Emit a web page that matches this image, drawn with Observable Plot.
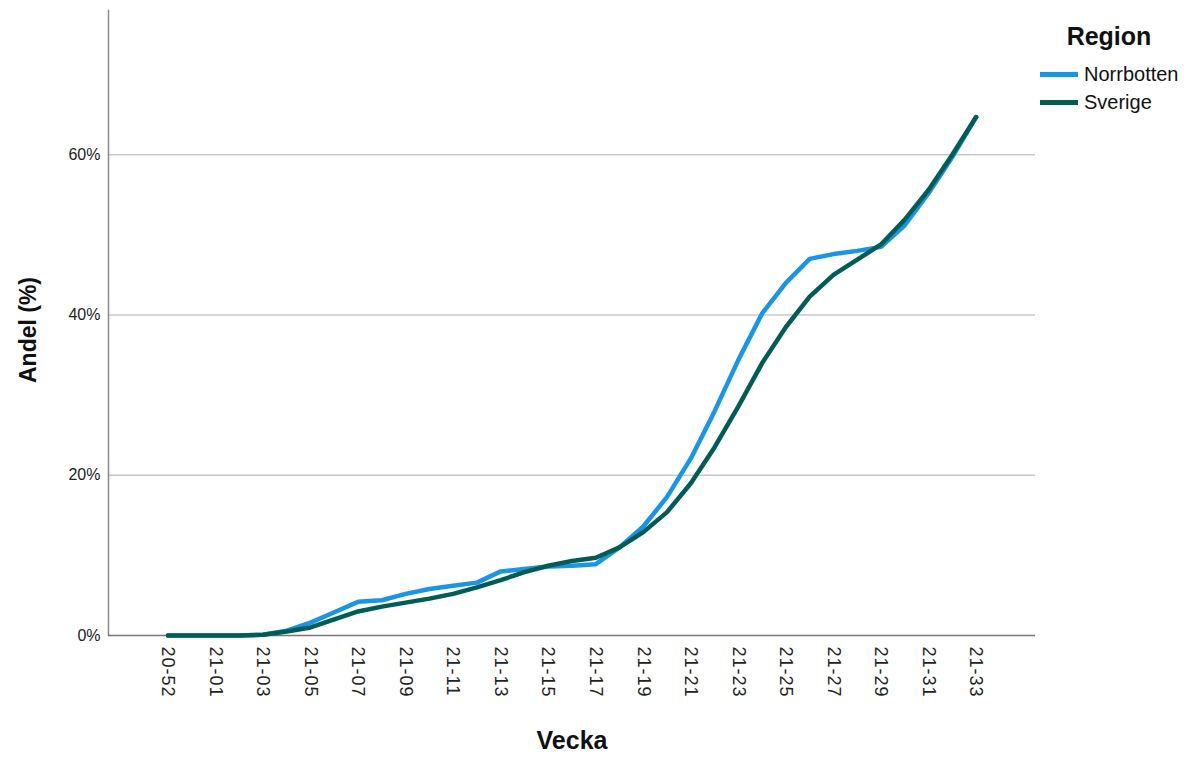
<!DOCTYPE html>
<html>
<head>
<meta charset="utf-8">
<script src="https://cdn.jsdelivr.net/npm/d3@7"></script>
<script src="https://cdn.jsdelivr.net/npm/@observablehq/plot@0.6"></script>
<style>
  html, body { margin: 0; padding: 0; background: #fff; }
  #wrap { position: relative; width: 1188px; height: 762px; font-family: "Liberation Sans", Arial, sans-serif; }
  #legend { position: absolute; left: 1036px; top: 22px; width: 152px; color: #111; }
  #legend .title { font-weight: bold; font-size: 25px; text-align: center; margin-left: 8px; width: 130px; margin-bottom: 9px; }
  #legend .item { display: flex; align-items: center; height: 28px; font-size: 20px; }
  #legend .sw { width: 38px; height: 5px; margin-right: 6px; margin-left: 4px; }
  svg g[aria-label="x-axis tick label"] text { letter-spacing: 1px; }
</style>
</head>
<body>
<div id="wrap"></div>
<script>
// Categories (weeks)
const weeks = ["20-52","20-53","21-01","21-02","21-03","21-04","21-05","21-06","21-07","21-08",
  "21-09","21-10","21-11","21-12","21-13","21-14","21-15","21-16","21-17","21-18",
  "21-19","21-20","21-21","21-22","21-23","21-24","21-25","21-26","21-27","21-28",
  "21-29","21-30","21-31","21-32","21-33"];
// Tick labels shown on the x axis
const xTickLabels = ["20-52","21-01","21-03","21-05","21-07","21-09","21-11","21-13","21-15",
  "21-17","21-19","21-21","21-23","21-25","21-27","21-29","21-31","21-33"];
// Y ticks (%)
const yTicks = [0, 20, 40, 60];
// Series values (Andel %)
const norrbotten = [0,0,0,0,0.1,0.6,1.6,2.9,4.2,4.4,
  5.2,5.8,6.2,6.6,8.0,8.3,8.6,8.7,8.9,11.0,
  13.6,17.3,22.1,28.0,34.4,40.2,44.0,47.0,47.6,48.0,
  48.5,51.2,55.2,59.7,64.7];
const sverige = [0,0,0,0,0.1,0.5,1.0,2.0,3.0,3.6,
  4.1,4.6,5.2,6.0,6.9,7.9,8.7,9.3,9.7,11.0,
  12.9,15.4,19.0,23.5,28.6,34.0,38.5,42.3,45.0,46.9,
  48.8,51.9,55.6,60.0,64.7];
const regions = ["Norrbotten", "Sverige"];
const colors = ["#1a94e6", "#005c55"];

const norrData = weeks.map((w, i) => ({week: w, value: norrbotten[i], region: regions[0]}));
const sverData = weeks.map((w, i) => ({week: w, value: sverige[i], region: regions[1]}));

const chart = Plot.plot({
  width: 1188,
  height: 762,
  marginLeft: 108,
  marginRight: 153,
  marginTop: 10,
  marginBottom: 127,
  style: {fontFamily: "'Liberation Sans', Arial, sans-serif", background: "white", color: "#222"},
  x: {type: "point", domain: weeks, padding: 2.5, round: false},
  y: {domain: [0, 78]},
  marks: [
    Plot.gridY(yTicks.filter(v => v > 0), {stroke: "#c8c8c8", strokeOpacity: 1, strokeWidth: 1.5}),
    Plot.frame({anchor: "left", stroke: "#888", strokeWidth: 1.5}),
    Plot.ruleY([0], {stroke: "#777", strokeWidth: 1.5}),
    Plot.axisY(yTicks, {tickSize: 0, tickPadding: 8, tickFormat: d => d + "%", fontSize: 16, label: null}),
    Plot.axisX(xTickLabels, {tickSize: 0, tickRotate: 90, tickPadding: 11, fontSize: 18, label: null}),
    Plot.line(norrData, {x: "week", y: "value", stroke: colors[0], strokeWidth: 4.5, strokeLinejoin: "round"}),
    Plot.line(sverData, {x: "week", y: "value", stroke: colors[1], strokeWidth: 4.5, strokeLinejoin: "round"}),
    Plot.text(["Vecka"], {frameAnchor: "bottom", dy: 113, fontSize: 25, fontWeight: "bold", fill: "#111"}),
    Plot.text(["Andel (%)"], {frameAnchor: "left", rotate: -90, dx: -80, dy: 7, textAnchor: "middle", fontSize: 23, fontWeight: "bold", fill: "#111"})
  ]
});

const wrap = document.getElementById("wrap");
wrap.appendChild(chart);

const legend = document.createElement("div");
legend.id = "legend";
legend.innerHTML = `<div class="title">Region</div>` +
  regions.map((r, i) => `<div class="item"><span class="sw" style="background:${colors[i]}"></span><span>${r}</span></div>`).join("");
wrap.appendChild(legend);
</script>
</body>
</html>
